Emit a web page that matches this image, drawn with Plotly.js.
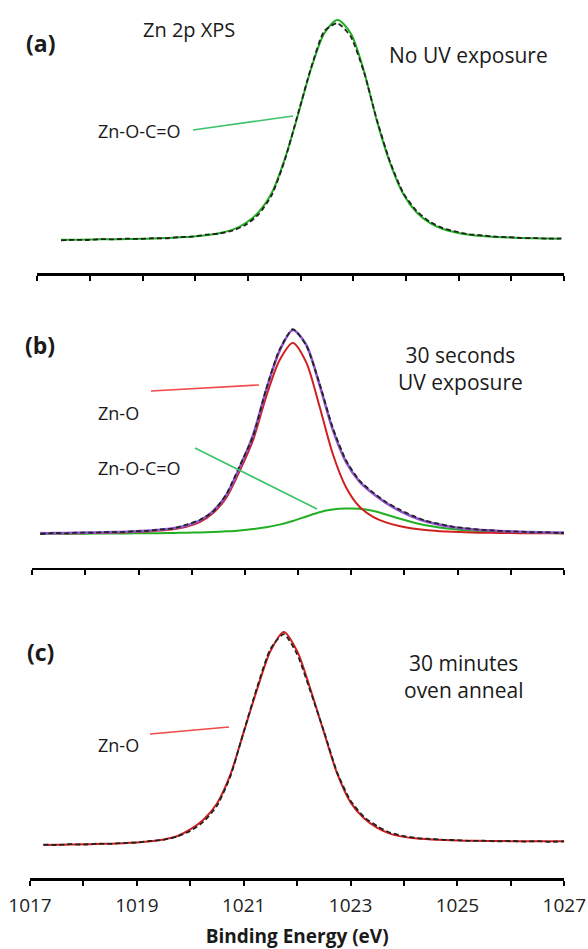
<!DOCTYPE html>
<html><head><meta charset="utf-8">
<script src="https://cdn.plot.ly/plotly-3.0.1.min.js"></script>
<style>html,body{margin:0;padding:0;background:#fff}</style>
</head><body><div id="chart" style="width:588px;height:949px"></div>
<script>
// ---- data (binding energy in eV, intensity in arbitrary units) ----
const energyA = [1017.45,1017.7,1017.95,1018.2,1018.45,1018.7,1018.95,1019.2,1019.45,1019.7,1019.95,1020.2,1020.45,1020.7,1020.95,1021.2,1021.45,1021.7,1021.95,1022.2,1022.45,1022.7,1022.95,1023.2,1023.45,1023.7,1023.95,1024.2,1024.45,1024.7,1024.95,1025.2,1025.45,1025.7,1025.95,1026.2,1026.45,1026.7,1026.95];
const fitA_ZnOCO = [0.3,0.35,0.4,0.5,0.55,0.65,0.75,0.9,1.1,1.4,1.8,2.4,3.3,4.8,7.8,12.8,21.5,37,57,78,94,100,94,77,54,35,21,12.8,8.0,5.2,3.6,2.6,2.0,1.6,1.3,1.1,0.95,0.85,0.8];
const measA = [0.0,0.3,0.2,0.6,0.5,0.8,0.7,1.0,1.0,1.5,1.7,2.6,3.1,4.4,7.0,11.8,20.5,36.5,57.5,78.5,95,98.5,92.5,76.5,54.5,35.5,21.5,13.4,8.5,5.6,4.0,2.8,2.3,1.7,1.5,1.1,1.1,0.8,0.9];

const energyB = [1017.15,1017.4,1017.65,1017.9,1018.15,1018.4,1018.65,1018.9,1019.15,1019.4,1019.65,1019.9,1020.15,1020.4,1020.65,1020.9,1021.15,1021.4,1021.65,1021.9,1022.15,1022.4,1022.65,1022.9,1023.15,1023.4,1023.65,1023.9,1024.15,1024.4,1024.65,1024.9,1025.15,1025.4,1025.65,1025.9,1026.15,1026.4,1026.65,1026.9,1027.15];
const fitB_ZnO = [0.3,0.3,0.35,0.4,0.5,0.6,0.75,0.95,1.25,1.7,2.35,3.6,5.8,10.3,17.9,31.0,46.1,67.7,85.5,94,84.6,63.0,39.5,23.0,13.5,8.6,5.7,3.9,2.7,1.9,1.4,1.05,0.8,0.65,0.55,0.45,0.4,0.35,0.3,0.3,0.25];
const fitB_ZnOCO = [0.1,0.12,0.14,0.16,0.19,0.21,0.25,0.3,0.35,0.42,0.5,0.6,0.75,0.95,1.3,1.75,2.4,3.3,4.6,6.4,8.6,10.7,12.0,12.5,12.4,11.4,9.6,7.6,5.8,4.3,3.2,2.4,1.8,1.4,1.1,0.85,0.7,0.55,0.45,0.4,0.35];
const fitB_envelope = [0.4,0.4,0.5,0.6,0.7,0.8,1.0,1.25,1.6,2.1,2.85,4.2,6.55,11.25,19.2,32.75,48.5,71.0,90.1,100.4,93.2,73.7,51.5,35.5,25.9,20.0,15.3,11.5,8.5,6.2,4.6,3.45,2.6,2.05,1.65,1.3,1.1,0.9,0.75,0.7,0.6];
const measB = [0.0,0.5,0.3,0.7,0.6,0.9,0.9,1.4,1.5,2.3,2.7,4.6,6.9,11.0,19.6,33.5,48.0,71.5,90.8,100.8,93.0,74.2,52.3,36.3,26.4,20.6,15.8,12.1,9.0,6.5,5.0,3.6,2.9,2.1,1.8,1.3,1.2,0.8,0.9,0.5,0.6];

const energyC = [1017.25,1017.5,1017.75,1018.0,1018.25,1018.5,1018.75,1019.0,1019.25,1019.5,1019.75,1020.0,1020.25,1020.5,1020.75,1021.0,1021.25,1021.5,1021.75,1022.0,1022.25,1022.5,1022.75,1023.0,1023.25,1023.5,1023.75,1024.0,1024.25,1024.5,1024.75,1025.0,1025.25,1025.5,1025.75,1026.0,1026.25,1026.5,1026.75,1027.0];
const fitC_ZnO = [0.0,0.1,0.2,0.3,0.45,0.6,0.85,1.2,1.7,2.6,4.1,7.3,12,19.5,33,53,73,91,100,91,73,53,33.5,20,12.5,8.0,5.2,3.8,3.0,2.6,2.3,2.1,2.0,1.9,1.85,1.8,1.75,1.75,1.7,1.7];
const measC = [0.2,0.0,0.4,0.2,0.6,0.5,1.0,1.1,1.9,2.4,3.9,6.6,11.0,18.4,32.2,53.2,74,92,99,89.5,72,53.5,34,20.8,13.2,8.8,5.7,4.2,3.2,2.9,2.4,2.3,1.9,2.0,1.7,1.9,1.6,1.8,1.5,1.7];

const tickVals = [1017,1018,1019,1020,1021,1022,1023,1024,1025,1026,1027];
const tickText = ['1017','','1019','','1021','','1023','','1025','','1027'];

// ---- styling ----
const GREEN = '#22b022', RED = '#d01f1f', PURPLE = '#8f55d0';
const FONT = 'Open Sans, Noto Sans, sans-serif';
const W = 588, H = 949, MB = 71, PH = H - MB;
const px = x => x / W;
const py = y => (PH - y) / PH;

const dashed = (x, y, xa, ya) => ({x, y, xaxis: xa, yaxis: ya, type: 'scatter', mode: 'lines',
  line: {color: '#222', width: 1.8, dash: '5px,3px', shape: 'spline', smoothing: 0.6}, hoverinfo: 'skip'});
const solid = (x, y, xa, ya, c, w) => ({x, y, xaxis: xa, yaxis: ya, type: 'scatter', mode: 'lines',
  line: {color: c, width: w || 2, shape: 'spline', smoothing: 0.8}, hoverinfo: 'skip'});

const traces = [
  solid(energyA, fitA_ZnOCO, 'x', 'y', GREEN),
  dashed(energyA, measA, 'x', 'y'),
  solid(energyB, fitB_ZnOCO, 'x2', 'y2', GREEN),
  solid(energyB, fitB_ZnO, 'x2', 'y2', RED),
  solid(energyB, fitB_envelope, 'x2', 'y2', PURPLE, 2.6),
  dashed(energyB, measB, 'x2', 'y2'),
  solid(energyC, fitC_ZnO, 'x3', 'y3', RED),
  dashed(energyC, measC, 'x3', 'y3')
];

const xbase = (dom, anchor, labels) => ({
  domain: dom, anchor: anchor, range: [1017, 1027], showgrid: false, zeroline: false,
  showline: true, linecolor: '#000', linewidth: 2.5, ticks: 'outside', ticklen: 5, tickwidth: 2, tickcolor: '#000',
  tickmode: 'array', tickvals: tickVals, ticktext: tickText, showticklabels: labels,
  ticklabelstandoff: 4,
  tickfont: {family: FONT, size: 19, color: '#222'}
});
const ybase = (dom, anchor, r) => ({domain: dom, anchor: anchor, range: r, visible: false, fixedrange: true});

const ann = (text, x, y, size, bold) => ({text: bold ? '<b>' + text + '</b>' : text, x: px(x), y: py(y),
  xref: 'paper', yref: 'paper', xanchor: 'center', yanchor: 'middle', showarrow: false,
  font: {family: FONT, size: size, color: '#1a1a1a'}});
const leader = (x0, y0, x1, y1, c) => ({type: 'line', xref: 'paper', yref: 'paper',
  x0: px(x0), y0: py(y0), x1: px(x1), y1: py(y1), line: {color: c, width: 1.6}});

const layout = {
  width: W, height: H, margin: {l: 0, r: 0, t: 0, b: MB}, paper_bgcolor: '#fff', plot_bgcolor: '#fff',
  showlegend: false,
  xaxis: xbase([px(37.3), px(564)], 'y', false),
  yaxis: ybase([py(273.3), py(5)], 'x', [-14.9, 106.8]),
  xaxis2: xbase([px(32.3), px(564)], 'y2', false),
  yaxis2: ybase([py(567.7), py(300)], 'x2', [-16.6, 115.2]),
  xaxis3: Object.assign(xbase([px(30), px(564.3)], 'y3', true), {
    title: {text: '<b>Binding Energy (eV)</b>', font: {family: FONT, size: 19, color: '#1a1a1a'}, standoff: 13}}),
  yaxis3: ybase([0, py(600)], 'x3', [-15.5, 115.0]),
  annotations: [
    ann('(a)', 40, 43, 23, true),
    ann('Zn 2p XPS', 189, 30, 20, false),
    ann('No UV exposure', 468, 55, 21, false),
    ann('Zn-O-C=O', 139, 131, 18, false),
    ann('(b)', 40, 345, 23, true),
    ann('30 seconds<br>UV exposure', 460, 368, 21, false),
    ann('Zn-O', 118, 413, 18, false),
    ann('Zn-O-C=O', 139, 468, 18, false),
    ann('(c)', 40, 652, 23, true),
    ann('30 minutes<br>oven anneal', 463, 676, 21, false),
    ann('Zn-O', 118, 745, 18, false)
  ],
  shapes: [
    leader(193, 130, 293, 116, '#3cc46a'),
    leader(151, 391, 259, 385, '#f04a4a'),
    leader(195, 448, 317, 509, '#3cc46a'),
    leader(150, 734, 229, 727, '#f04a4a')
  ]
};

Plotly.newPlot('chart', traces, layout, {staticPlot: true, displayModeBar: false});
</script>
</body></html>
